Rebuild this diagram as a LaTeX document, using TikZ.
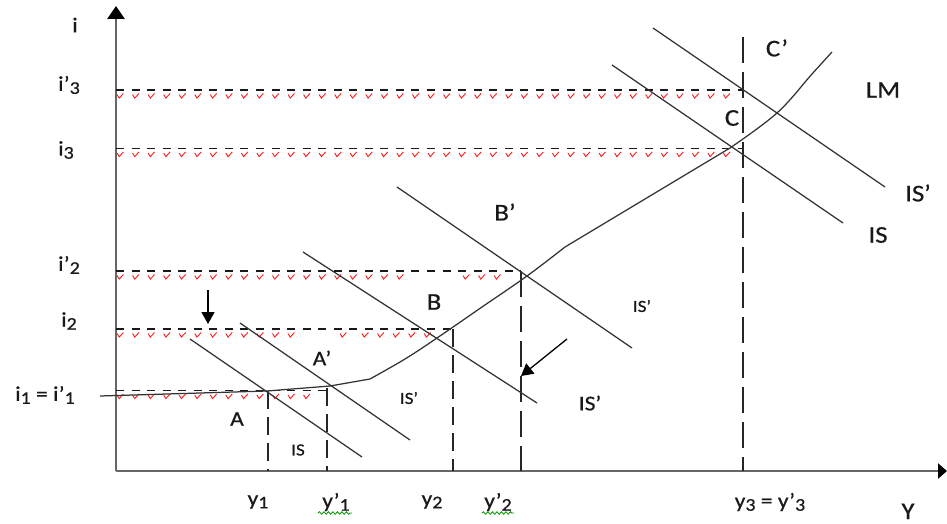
\documentclass[tikz,border=0pt]{standalone}
\usepackage{fontspec}
\setmainfont[FakeStretch=1.12,FakeBold=0.6]{Carlito}
\usetikzlibrary{arrows.meta,decorations.pathmorphing}
\newcommand\sbx[1]{\raisebox{-0.3ex}{\scalebox{0.85}{#1}}}
\newcommand\chks[3]{\foreach \k in {0,...,#3}{\draw[chk] ({#1+15.55*\k},{#2+4.5}) -- ++(2.2,3.6) -- ++(4.2,-4.6);}}
\begin{document}
\begin{tikzpicture}[x=1pt,y=-1pt,
  curve/.style={draw=black!80, line width=1.25pt},
  axis/.style={draw=black!60, line width=2.8pt},
  hdash/.style={draw=black!90, line width=1.2pt, dash pattern=on 8pt off 7.55pt},
  vdash/.style={draw=black!85, line width=1.4pt, dash pattern=on 18pt off 8pt},
  vdashlong/.style={draw=black!85, line width=1.4pt, dash pattern=on 26pt off 9pt},
  lbl/.style={font=\fontsize{24}{26}\selectfont, text=black!90, inner sep=0pt},
  mlbl/.style={font=\fontsize{21}{23}\selectfont, text=black!90, inner sep=0pt},
  slbl/.style={font=\fontsize{17}{19}\selectfont, text=black!90, inner sep=0pt},
  chk/.style={draw=red!90, line width=0.9pt},
  wavy/.style={draw=green!60!black, line width=0.8pt, decorate, decoration={snake, amplitude=1.3pt, segment length=4.5pt}},
  pointer/.style={draw=black, line width=1.6pt, -{Triangle[length=12pt,width=13pt]}}
]
\useasboundingbox (0,0) rectangle (947,524);

% axes
\coordinate (O) at (116,471);
\coordinate (ytop) at (116,6);
\coordinate (xend) at (947,471);
\draw[axis, -{Triangle[length=13pt,width=17pt,color=black]}] (O) -- (ytop);
\draw[axis, -{Triangle[length=9pt,width=15pt,color=black]}] (O) -- (xend);

% key points
\coordinate (A) at (268,390.5);
\coordinate (Ap) at (327,388);
\coordinate (Aph) at (327,390.5);
\coordinate (B) at (453,329);
\coordinate (Bp) at (521,271);
\coordinate (C) at (743,148.5);
\coordinate (Cp) at (743,90);
\coordinate (Ctop) at (743,37);

% axis anchors
\coordinate (i1ax) at (116,390.5);
\coordinate (i2ax) at (116,329);
\coordinate (ip2ax) at (116,271);
\coordinate (i3ax) at (116,148.5);
\coordinate (ip3ax) at (116,90);
\coordinate (y1ax) at (268,471);
\coordinate (yp1ax) at (327,471);
\coordinate (y2ax) at (453,471);
\coordinate (yp2ax) at (521,471);
\coordinate (y3ax) at (743,471);

% red check marks under the dashed lines
\chks{117}{90}{39}
\chks{117}{148.5}{39}
\chks{117}{271}{18}
\chks{463}{271}{2}
\chks{117}{329}{11}
\chks{340}{329}{0}
\chks{362}{329}{4}
\chks{117}{390.5}{12}

% horizontal dashed lines
\draw[hdash] (ip3ax) -- (Cp);
\draw[hdash] (i3ax) -- (C);
\draw[hdash] (ip2ax) -- (Bp);
\draw[hdash] (i2ax) -- (B);
\draw[hdash] (i1ax) -- (Aph);

% vertical dashed lines
\draw[vdash] (A) -- (y1ax);
\draw[vdash] (Ap) -- (yp1ax);
\draw[vdash] (B) -- (y2ax);
\draw[vdashlong] (Bp) -- (yp2ax);
\draw[vdashlong] (Ctop) -- (y3ax);

% IS curves
\coordinate (isa1) at (190,339);   \coordinate (isa2) at (362,457);
\coordinate (ispa1) at (240,323);  \coordinate (ispa2) at (410,440);
\coordinate (isb1) at (303,252);   \coordinate (isb2) at (537,403);
\coordinate (ispb1) at (397,187);  \coordinate (ispb2) at (632,348);
\coordinate (isc1) at (612,65);    \coordinate (isc2) at (843,223);
\coordinate (ispc1) at (653,28);   \coordinate (ispc2) at (885,187);
\draw[curve] (isa1) -- (isa2);
\draw[curve] (ispa1) -- (ispa2);
\draw[curve] (isb1) -- (isb2);
\draw[curve] (ispb1) -- (ispb2);
\draw[curve] (isc1) -- (isc2);
\draw[curve] (ispc1) -- (ispc2);

% LM curve
\draw[curve] (100,396) -- (267,391) -- (330,386) -- (370,379)
  plot[smooth, tension=0.6] coordinates {(370,379) (405,359) (437,338) (482,307) (527,276) (565,247)}
  -- (570,244) -- (730,148)
  plot[smooth, tension=0.6] coordinates {(730,148) (777,113) (812,74) (832,52)};

% arrows
\coordinate (ar1s) at (208,290); \coordinate (ar1e) at (208,324);
\coordinate (ar2s) at (567,339); \coordinate (ar2e) at (521,376);
\draw[pointer] (ar1s) -- (ar1e);
\draw[pointer, line width=1.3pt] (ar2s) -- (ar2e);

% axis labels
\node[mlbl] (li) at (75,25) {i};
\node[mlbl] (lip3) at (69,85) {i’\sbx{3}};
\node[mlbl] (li3) at (66,150) {i\sbx{3}};
\node[mlbl] (lip2) at (69,265) {i’\sbx{2}};
\node[mlbl] (li2) at (69,321) {i\sbx{2}};
\node[mlbl] (li1) at (45,395) {i\sbx{1} = i’\sbx{1}};
\node[mlbl] (ly1) at (258,502) {y\sbx{1}};
\node[mlbl] (lyp1) at (336,502) {y’\sbx{1}};
\node[mlbl] (ly2) at (432,502) {y\sbx{2}};
\node[mlbl] (lyp2) at (498,502) {y’\sbx{2}};
\node[mlbl] (ly3) at (770,502) {y\sbx{3} = y’\sbx{3}};
\node[lbl, anchor=base] (lY) at (908,519) {Y};
\draw[wavy] (318,513) -- (352,513);
\draw[wavy] (482,513) -- (514,513);

% curve labels
\node[lbl] (lCp) at (777,48) {C’};
\node[lbl] (lLM) at (883,90) {LM};
\node[lbl] (lC) at (732,118) {C};
\node[lbl] (lISpC) at (918,193) {IS’};
\node[lbl] (lISC) at (878,235) {IS};
\node[lbl] (lBp) at (505,212) {B’};
\node[lbl] (lB) at (434,302) {B};
\node[slbl] (lISpB) at (642,306) {IS’};
\node[mlbl] (lISpB2) at (590,403) {IS’};
\node[slbl] (lISpA) at (409,398) {IS’};
\node[slbl] (lISA) at (298,450) {IS};
\node[mlbl] (lAp) at (322,358) {A’};
\node[mlbl] (lA) at (237,419) {A};
\end{tikzpicture}
\end{document}
